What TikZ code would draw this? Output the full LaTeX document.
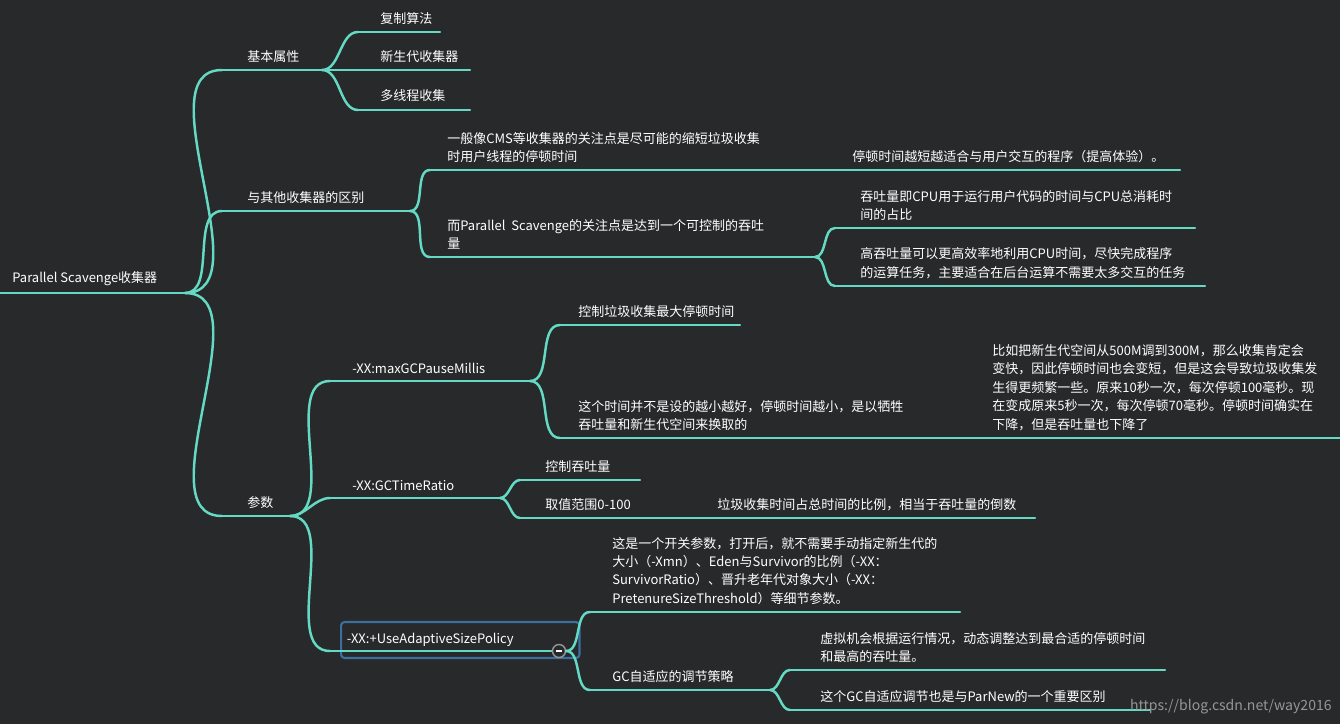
\documentclass[tikz,border=0pt]{standalone}
\usepackage{fontspec}
\setmainfont{Noto Sans CJK SC}
\definecolor{mybg}{RGB}{40, 41, 43}
\definecolor{myteal}{RGB}{100, 218, 196}
\definecolor{myframe}{RGB}{60, 110, 160}
\definecolor{mygrey}{RGB}{150, 150, 150}
\tikzset{
  mmline/.style={draw=myteal, line width=1.4pt, line cap=round},
  mmedge/.style={mmline, out=0, in=180, looseness=0.9},
  mmtext/.style={anchor=south west, inner sep=0pt, text=white, align=left,
    font=\fontsize{7.4}{10.5}\selectfont}
}
% underline with start/end coordinates: name, x1, x2, y
\newcommand\uline[4]{%
  \coordinate (#1-s) at (#2,#4);
  \coordinate (#1-e) at (#3,#4);
  \draw[mmline] (#1-s) -- (#1-e);}
\begin{document}
\begin{tikzpicture}[x=0.02cm, y=-0.02cm]
  \fill[mybg] (0,0) rectangle (1340,724);
  \useasboundingbox (0,0) rectangle (1340,724);

  % root
  \uline{root}{0}{185}{293}
  \node[mmtext] (rootT) at (12,286) {Parallel Scavenge收集器};

  % basic properties
  \uline{basic}{222}{322}{70}
  \node[mmtext] (basicT) at (247,63) {基本属性};
  \uline{copy}{358}{440}{32}
  \node[mmtext] (copyT) at (380,25) {复制算法};
  \uline{young}{358}{470}{70}
  \node[mmtext] (youngT) at (380,63) {新生代收集器};
  \uline{multi}{358}{470}{110}
  \node[mmtext] (multiT) at (380,102) {多线程收集};

  % difference
  \uline{diff}{222}{410}{211}
  \node[mmtext] (diffT) at (247,204) {与其他收集器的区别};
  \uline{cms}{430}{840}{170}
  \node[mmtext] (cmsT) at (447,163) {一般像CMS等收集器的关注点是尽可能的缩短垃圾收集\\时用户线程的停顿时间};
  \uline{short}{840}{1180}{170}
  \node[mmtext] (shortT) at (852,163) {停顿时间越短越适合与用户交互的程序（提高体验）。};
  \uline{ps}{430}{815}{257}
  \node[mmtext] (psT) at (447,250) {而Parallel\ \ Scavenge的关注点是达到一个可控制的吞吐\\量};
  \uline{thr}{835}{1195}{228}
  \node[mmtext] (thrT) at (860,221) {吞吐量即CPU用于运行用户代码的时间与CPU总消耗时\\间的占比};
  \uline{high}{835}{1205}{286}
  \node[mmtext] (highT) at (860,279) {高吞吐量可以更高效率地利用CPU时间，尽快完成程序\\的运算任务，主要适合在后台运算不需要太多交互的任务};

  % parameters
  \uline{param}{222}{290}{516}
  \node[mmtext] (paramT) at (247,509) {参数};
  \uline{pause}{330}{530}{381}
  \node[mmtext] (pauseT) at (352,374) {-XX:maxGCPauseMillis};
  \uline{ctrl}{560}{740}{325}
  \node[mmtext] (ctrlT) at (578,318) {控制垃圾收集最大停顿时间};
  \uline{notsmall}{560}{980}{438}
  \node[mmtext] (notsmallT) at (578,431) {这个时间并不是设的越小越好，停顿时间越小，是以牺牲\\吞吐量和新生代空间来换取的};
  \uline{eg}{980}{1340}{438}
  \node[mmtext] (egT) at (992,431) {比如把新生代空间从500M调到300M，那么收集肯定会\\变快，因此停顿时间也会变短，但是这会导致垃圾收集发\\生得更频繁一些。原来10秒一次，每次停顿100毫秒。现\\在变成原来5秒一次，每次停顿70毫秒。停顿时间确实在\\下降，但是吞吐量也下降了};
  \uline{ratio}{330}{500}{498}
  \node[mmtext] (ratioT) at (352,491) {-XX:GCTimeRatio};
  \uline{ctrlthr}{520}{640}{480}
  \node[mmtext] (ctrlthrT) at (545,473) {控制吞吐量};
  \uline{range}{520}{700}{518}
  \node[mmtext] (rangeT) at (545,511) {取值范围0-100};
  \uline{inv}{700}{1035}{518}
  \node[mmtext] (invT) at (717,511) {垃圾收集时间占总时间的比例，相当于吞吐量的倒数};

  % adaptive size policy
  \coordinate (adapt-s) at (330,651);
  \coordinate (adapt-e) at (553,651);
  \node[draw=myframe, line width=1.2pt, rounded corners=2pt, minimum width=4.2cm,
    minimum height=0.72cm, anchor=west, text=white,
    font=\fontsize{7.4}{10.5}\selectfont] (adapt) at (340,640) {-XX:+UseAdaptiveSizePolicy\hspace*{1.2cm}};
  \draw[mmline] (adapt-s) -- (adapt-e);
  \node[circle, draw=mygrey, fill=mybg, line width=0.8pt, minimum size=0.26cm,
    inner sep=0pt] (fold) at (559,651) {};
  \draw[white, line width=0.7pt] ([xshift=-1.6pt]fold.center) -- ([xshift=1.6pt]fold.center);
  \coordinate (fold-e) at (566,651);
  \uline{switch}{590}{960}{612}
  \node[mmtext] (switchT) at (612,605) {这是一个开关参数，打开后，就不需要手动指定新生代的\\大小（-Xmn）、Eden与Survivor的比例（-XX：\\SurvivorRatio）、晋升老年代对象大小（-XX：\\PretenureSizeThreshold）等细节参数。};
  \uline{gcad}{590}{770}{690}
  \node[mmtext] (gcadT) at (612,683) {GC自适应的调节策略};
  \uline{vm}{790}{1165}{670}
  \node[mmtext] (vmT) at (820,663) {虚拟机会根据运行情况，动态调整达到最合适的停顿时间\\和最高的吞吐量。};
  \uline{parnew}{790}{1150}{710}
  \node[mmtext] (parnewT) at (820,703) {这个GC自适应调节也是与ParNew的一个重要区别};

  % connectors
  \foreach \a/\b in {root/basic, root/diff, root/param, basic/copy, basic/young,
    basic/multi, diff/cms, diff/ps, ps/thr, ps/high, param/pause, param/ratio,
    param/adapt, pause/ctrl, pause/notsmall, ratio/ctrlthr, ratio/range,
    fold/switch, fold/gcad, gcad/vm, gcad/parnew}
    \draw[mmedge] (\a-e) to (\b-s);

  \node[anchor=south east, inner sep=0pt, text=mygrey,
    font=\fontsize{8}{10}\selectfont] (mark) at (1332,714) {https://blog.csdn.net/way2016};
\end{tikzpicture}
\end{document}
